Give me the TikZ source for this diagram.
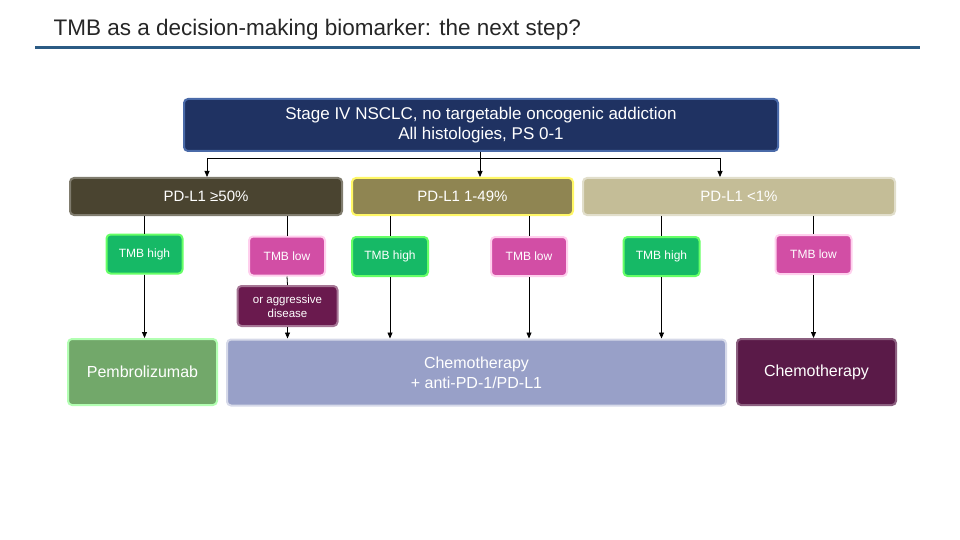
\documentclass[tikz,border=0pt]{standalone}
\usepackage{fontspec}
\setmainfont{Liberation Sans}
\usetikzlibrary{arrows.meta}
\definecolor{navy}{HTML}{1F3262}
\definecolor{navyb}{HTML}{4A6AA8}
\definecolor{catA}{HTML}{4A4430}
\definecolor{catB}{HTML}{8F8552}
\definecolor{catC}{HTML}{C4BD97}
\definecolor{tgreen}{HTML}{16B966}
\definecolor{tpink}{HTML}{D24EA5}
\definecolor{aggr}{HTML}{6A1A4E}
\definecolor{pemb}{HTML}{72A86A}
\definecolor{chemoA}{HTML}{98A0C8}
\definecolor{chemoB}{HTML}{5A1A48}
\definecolor{rule}{HTML}{2B5B84}
\begin{document}
\begin{tikzpicture}[x=1pt,y=-1pt,
  box/.style={draw, line width=2pt, rounded corners=4pt, text=white, align=center, inner sep=0pt},
  tmb/.style={box, minimum width=76pt, minimum height=39pt, font=\fontsize{12}{14}\selectfont},
  hi/.style={tmb, fill=tgreen, draw=green!60!white},
  lo/.style={tmb, fill=tpink, draw=pink!70!magenta!40!white},
  cat/.style={box, minimum height=37pt, font=\fontsize{15}{18}\selectfont},
  bot/.style={box, minimum height=66pt, font=\fontsize{16}{20}\selectfont},
  arr/.style={-{Triangle[length=6pt,width=5pt]}, line width=0.8pt},
  ln/.style={line width=0.8pt}]
\useasboundingbox (0,0) rectangle (960,540);
\node[anchor=base west, font=\fontsize{22.5}{26}\selectfont, text=black!85] (title) at (50,36) {TMB as a decision-making biomarker: the next step?};
\draw[rule, line width=3pt] (35,48) coordinate (r1) -- (920,48) coordinate (r2);

\node[box, fill=navy, draw=navyb, minimum width=594pt, minimum height=52pt, font=\fontsize{17}{20}\selectfont] (top) at (481,125) {Stage IV NSCLC, no targetable oncogenic addiction\\All histologies, PS 0-1};

\node[cat, fill=catA, draw=catA!70!white, minimum width=272pt] (c1) at (206,196.5) {PD-L1 ≥50\%};
\node[cat, fill=catB, draw=yellow!60!white, minimum width=221pt] (c2) at (462.5,196.5) {PD-L1 1-49\%};
\node[cat, fill=catC, draw=catC!50!white, minimum width=312pt] (c3) at (739,196.5) {PD-L1 <1\%};

\coordinate (j) at (480,158);
\coordinate (jl) at (207,158);
\coordinate (jr) at (720,158);
\draw[ln] (top.south -| j) -- (j);
\draw[ln] (jl) -- (jr);
\draw[arr] (jl) -- (jl |- c1.north);
\draw[arr] (j) -- (j |- c2.north);
\draw[arr] (jr) -- (jr |- c3.north);

\node[hi] (h1) at (144.5,254) {TMB high};
\node[lo] (l1) at (287,256) {TMB low};
\node[box, fill=aggr, draw=aggr!60!white, minimum width=100pt, minimum height=40pt, font=\fontsize{11.5}{14}\selectfont] (ag) at (287.5,306) {or aggressive\\disease};
\node[hi] (h2) at (390,256.5) {TMB high};
\node[lo] (l2) at (529,256.5) {TMB low};
\node[hi] (h3) at (661.5,256.5) {TMB high};
\node[lo] (l3) at (813.5,254.5) {TMB low};

\node[bot, fill=pemb, draw=green!30!white, minimum width=149pt] (p) at (142.5,372) {Pembrolizumab};
\node[bot, fill=chemoA, draw=chemoA!40!white, minimum width=499pt] (ca) at (476.5,372.5) {Chemotherapy\\+ anti-PD-1/PD-L1};
\node[bot, fill=chemoB, draw=chemoB!70!white, minimum width=159pt] (cb) at (816.5,372) {Chemotherapy};

\foreach \b/\c in {h1/c1,l1/c1,h2/c2,l2/c2,h3/c3,l3/c3}
  \draw[ln] (\b.north |- \c.south) -- (\b.north);
\draw[ln] (l1.south) -- (ag.north);
\draw[arr] (h1.south) -- (h1.south |- p.north);
\draw[arr] (ag.south) -- (ag.south |- ca.north);
\draw[arr] (h2.south) -- (h2.south |- ca.north);
\draw[arr] (l2.south) -- (l2.south |- ca.north);
\draw[arr] (h3.south) -- (h3.south |- ca.north);
\draw[arr] (l3.south) -- (l3.south |- cb.north);
\end{tikzpicture}
\end{document}
